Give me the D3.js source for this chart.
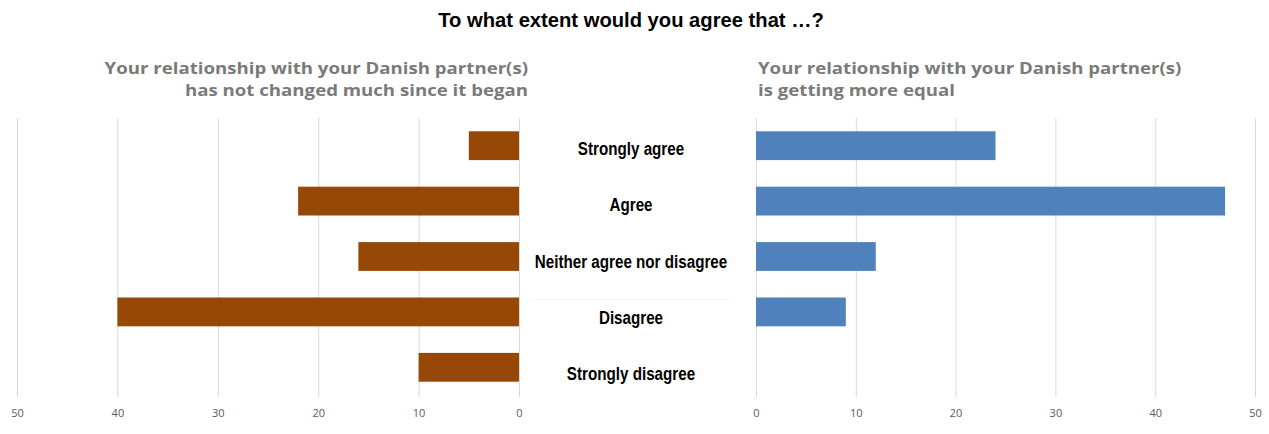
<!DOCTYPE html>
<html>
<head>
<meta charset="utf-8">
<script src="https://cdn.jsdelivr.net/npm/d3@7"></script>
<style>
  html, body { margin: 0; padding: 0; background: #fff; }
  svg { display: block; }
</style>
</head>
<body>
<div id="chart"></div>
<script>
// Deux demi-graphes en miroir, libellés des modalités au centre.
const categories = ["Strongly agree", "Agree", "Neither agree nor disagree", "Disagree", "Strongly disagree"]
const notChanged = [5, 22, 16, 40, 10]
const moreEqual = [24, 47, 12, 9, 0]
const ticks = [0, 10, 20, 30, 40, 50]

const title = "To what extent would you agree that …?"
const leftTitle = ["Your relationship with your Danish partner(s)", "has not changed much since it began"]
const rightTitle = ["Your relationship with your Danish partner(s)", "is getting more equal"]

const W = 1269, H = 434
const colors = { left: "#974706", right: "#4f81bd", grid: "#d9d9d9", tick: "#595959", sub: "#7a7a7a" }

const svg = d3.select("#chart").append("svg")
  .attr("width", W).attr("height", H)
  .attr("viewBox", `0 0 ${W} ${H}`)

const yTop = 118, yBottom = 397

const y = d3.scaleBand()
  .domain(categories)
  .range([yTop, 395])
  .paddingInner(0.48)
  .paddingOuter(0.24)

const xL = d3.scaleLinear().domain([50, 0]).range([17, 519])
const xR = d3.scaleLinear().domain([0, 50]).range([756, 1255])

// --- Titre ---
svg.append("text")
  .attr("x", 631).attr("y", 27)
  .attr("text-anchor", "middle")
  .attr("font-family", "Liberation Sans, Arial, sans-serif")
  .attr("font-weight", 700).attr("font-size", 20.2)
  .attr("fill", "#000")
  .text(title)

// --- Sous-titres des deux panneaux ---
// Police un peu plus petite, élargie horizontalement, pour garder 22px d'interligne
// sans que les boîtes des deux lignes se chevauchent.
const subFont = "'Open Sans', 'Noto Sans', sans-serif"
function subtitle(lines, x, anchor) {
  const g = svg.append("g").attr("transform", `translate(${x},74) scale(1.165,1)`)
  lines.forEach((line, i) => {
    g.append("text")
      .attr("x", 0).attr("y", i * 22)
      .attr("text-anchor", anchor)
      .attr("font-family", subFont).attr("font-weight", 700).attr("font-size", 16)
      .attr("fill", colors.sub)
      .text(line)
  })
}
subtitle(leftTitle, 528, "end")
subtitle(rightTitle, 758, "start")

// --- Panneau générique ---
function panel(x, values, color) {
  const g = svg.append("g")

  // gridlines verticales + labels du bas
  g.append("g")
    .attr("transform", `translate(0,${yBottom})`)
    .call(d3.axisBottom(x).tickValues(ticks).tickSize(-(yBottom - yTop)).tickPadding(12).tickFormat(d3.format("d")))
    .call(s => s.select(".domain").remove())
    .call(s => s.selectAll(".tick line").attr("stroke", colors.grid).attr("stroke-width", 1))
    .call(s => s.selectAll(".tick text")
      .attr("fill", colors.tick)
      .attr("font-family", "'Open Sans', sans-serif")
      .attr("font-size", 11))

  g.selectAll("rect.bar")
    .data(categories.map((c, i) => ({ c, v: values[i] })))
    .join("rect")
    .attr("class", "bar")
    .attr("x", d => Math.min(x(0), x(d.v)))
    .attr("y", d => y(d.c))
    .attr("width", d => Math.abs(x(d.v) - x(0)))
    .attr("height", y.bandwidth())
    .attr("fill", color)
}

panel(xL, notChanged, colors.left)
panel(xR, moreEqual, colors.right)

// ligne très pâle derrière "Disagree"
svg.append("line")
  .attr("x1", 530).attr("x2", 730)
  .attr("y1", y("Disagree") + 2).attr("y2", y("Disagree") + 2)
  .attr("stroke", "#f4f4f4")

// --- Libellés centraux (Arial Narrow simulée : Liberation Sans compressée) ---
svg.selectAll("text.cat")
  .data(categories)
  .join("text")
  .attr("class", "cat")
  .attr("transform", (d, i) => `translate(631,${y(d) + y.bandwidth() / 2 + 2 + i}) scale(0.8,1)`)
  .attr("y", 7)
  .attr("text-anchor", "middle")
  .attr("font-family", "Liberation Sans, Arial, sans-serif")
  .attr("font-weight", 700).attr("font-size", 19)
  .attr("fill", "#000")
  .text(d => d)
</script>
</body>
</html>
